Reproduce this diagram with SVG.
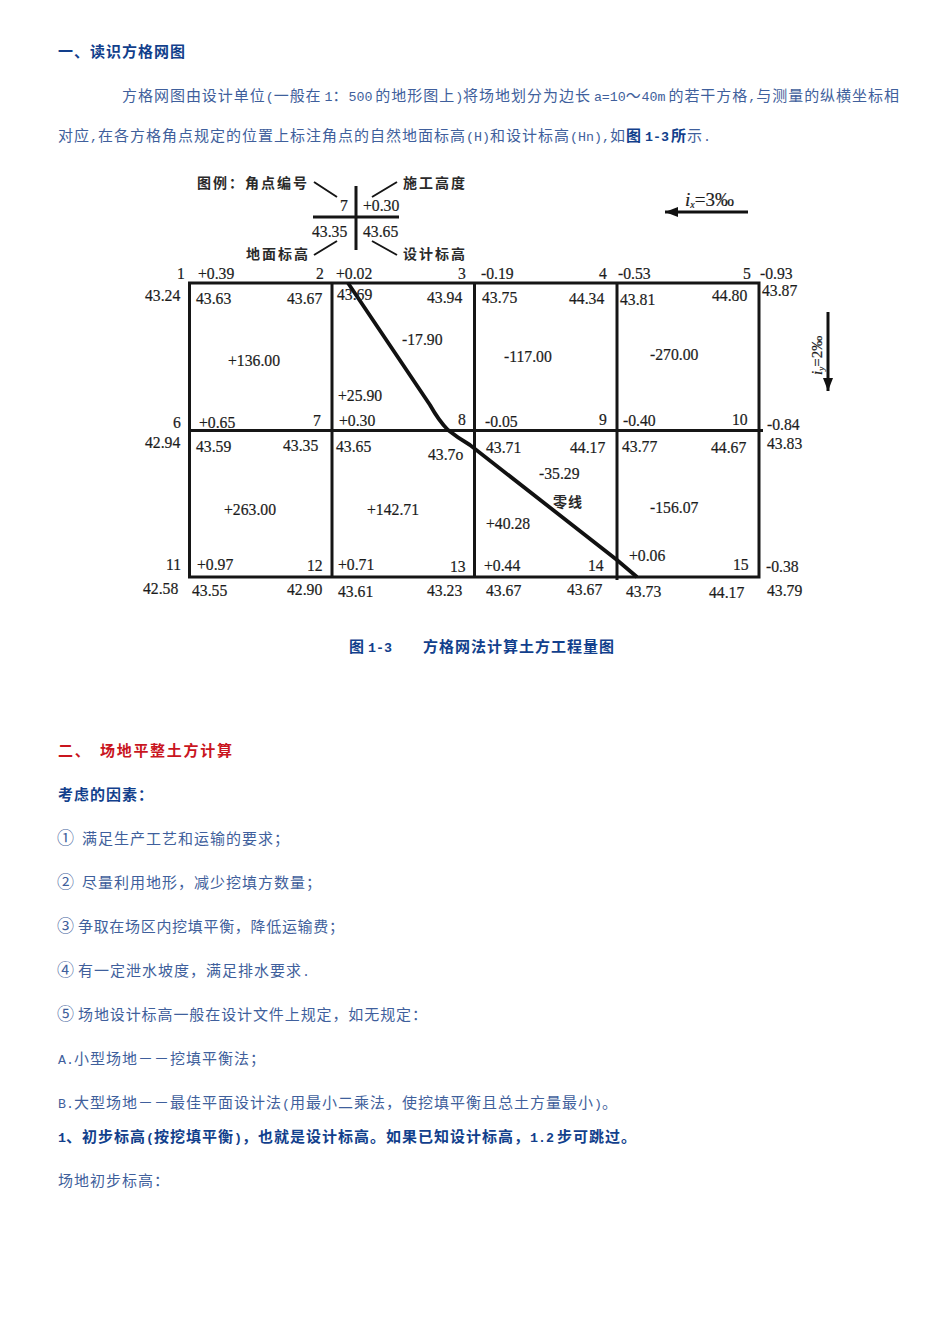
<svg xmlns="http://www.w3.org/2000/svg" width="950" height="1344" viewBox="0 0 950 1344">
<style>
.t{font-family:"Liberation Mono","Noto Sans CJK SC",sans-serif;font-size:15px;letter-spacing:1px;fill:#3f5f9c}
.b{font-weight:700;fill:#123f8c}
.r{font-weight:700;fill:#c9151e;letter-spacing:1.700px}
.l{font-size:13.300px;letter-spacing:0}
.o{font-family:"Noto Sans CJK SC",sans-serif;font-size:17px}
.n{font-family:"Liberation Serif","Noto Sans CJK SC",serif;font-size:15.700px;fill:#1c1c1c;stroke:#1c1c1c;stroke-width:.2}
.c{font-family:"Noto Sans CJK SC",sans-serif;font-size:14px;font-weight:700;letter-spacing:2px;fill:#2a2a2a}
.g{fill:none;stroke:#161616;stroke-width:3}
.z{fill:none;stroke:#111;stroke-width:3.800}
.h{fill:none;stroke:#161616;stroke-width:2}
.a{fill:none;stroke:#111;stroke-width:3;marker-end:url(#ah)}
</style>
<defs>
<marker id="ah" markerUnits="userSpaceOnUse" markerWidth="14" markerHeight="12" refX="13" refY="6" orient="auto"><path d="M0 1 L13 6 L0 11 Z" fill="#111"/></marker>
</defs>
<rect width="950" height="1344" fill="#fff"/>

<g id="text-top">
<text class="t b" x="58" y="57">一、读识方格网图</text>
<text class="t" x="122" y="101" textLength="778">方格网图由设计单位<tspan class="l">(</tspan>一般在<tspan class="l" dx="3">1</tspan>：<tspan class="l">500</tspan><tspan dx="3">的地形图上</tspan><tspan class="l">)</tspan>将场地划分为边长<tspan class="l" dx="3">a=10</tspan>～<tspan class="l">40m</tspan><tspan dx="3">的若干方格</tspan><tspan class="l">,</tspan>与测量的纵横坐标相</text>
<text class="t" x="58" y="141">对应<tspan class="l">,</tspan>在各方格角点规定的位置上标注角点的自然地面标高<tspan class="l">(H)</tspan>和设计标高<tspan class="l">(Hn),</tspan>如<tspan class="b">图<tspan class="l" dx="3">1-3</tspan><tspan dx="2">所</tspan></tspan>示<tspan class="l">.</tspan></text>
</g>

<g id="legend">
<path class="g" d="M356 186V250M313 217H399"/>
<path class="h" d="M314 182L337 197M372 197L397 182M314 255L337 241M372 241L397 255"/>
<text class="c" x="197" y="188">图例：角点编号</text>
<text class="c" x="403" y="188">施工高度</text>
<text class="c" x="246" y="259">地面标高</text>
<text class="c" x="403" y="259">设计标高</text>
<text class="n" x="340" y="211">7</text>
<text class="n" x="363" y="211">+0.30</text>
<text class="n" x="312" y="237">43.35</text>
<text class="n" x="363" y="237">43.65</text>
</g>

<g id="slope-arrows">
<path class="a" d="M748 212H665"/>
<path class="a" d="M828 312V391"/>
<text class="n" x="685" y="206" style="font-size:19px"><tspan font-style="italic">i</tspan><tspan font-size="10" dy="2" font-style="italic">x</tspan><tspan dy="-2">=3‰</tspan></text>
<text class="n" transform="translate(822 375) rotate(-90)" style="font-size:15px"><tspan font-style="italic">i</tspan><tspan font-size="9" dy="2" font-style="italic">y</tspan><tspan dy="-2">=2‰</tspan></text>
</g>

<g id="grid">
<path class="g" d="M189.500 283H759V577H189.500ZM332 283V577M474.500 283V577M617 283V580M189.500 430.500H763"/>
</g>
<g id="zero-line">
<path class="z" d="M348 283L430 405Q439 421 448 430Q458 438 470 445L617 560L637 577"/>
</g>

<g id="row-1-labels">
<text class="n" x="177" y="279">1</text><text class="n" x="198" y="279">+0.39</text>
<text class="n" x="316" y="279">2</text><text class="n" x="336" y="279">+0.02</text>
<text class="n" x="458" y="279">3</text><text class="n" x="481" y="279">-0.19</text>
<text class="n" x="599" y="279">4</text><text class="n" x="618" y="279">-0.53</text>
<text class="n" x="743" y="279">5</text><text class="n" x="760" y="279">-0.93</text>
<text class="n" x="145" y="301">43.24</text><text class="n" x="196" y="304">43.63</text>
<text class="n" x="287" y="304">43.67</text><text class="n" x="337" y="300">43.69</text>
<text class="n" x="427" y="303">43.94</text><text class="n" x="482" y="303">43.75</text>
<text class="n" x="569" y="304">44.34</text><text class="n" x="620" y="305">43.81</text>
<text class="n" x="712" y="301">44.80</text><text class="n" x="762" y="296">43.87</text>
</g>
<g id="cell-values-1">
<text class="n" x="228" y="366">+136.00</text>
<text class="n" x="402" y="345">-17.90</text>
<text class="n" x="338" y="401">+25.90</text>
<text class="n" x="504" y="362">-117.00</text>
<text class="n" x="650" y="360">-270.00</text>
</g>
<g id="row-2-labels">
<text class="n" x="173" y="428">6</text><text class="n" x="199" y="428">+0.65</text>
<text class="n" x="313" y="426">7</text><text class="n" x="339" y="426">+0.30</text>
<text class="n" x="458" y="425">8</text><text class="n" x="485" y="427">-0.05</text>
<text class="n" x="599" y="425">9</text><text class="n" x="623" y="426">-0.40</text>
<text class="n" x="732" y="425">10</text><text class="n" x="767" y="430">-0.84</text>
<text class="n" x="145" y="448">42.94</text><text class="n" x="196" y="452">43.59</text>
<text class="n" x="283" y="451">43.35</text><text class="n" x="336" y="452">43.65</text>
<text class="n" x="428" y="460">43.7o</text><text class="n" x="486" y="453">43.71</text>
<text class="n" x="570" y="453">44.17</text><text class="n" x="622" y="452">43.77</text>
<text class="n" x="711" y="453">44.67</text><text class="n" x="767" y="449">43.83</text>
</g>
<g id="cell-values-2">
<text class="n" x="224" y="515">+263.00</text>
<text class="n" x="367" y="515">+142.71</text>
<text class="n" x="539" y="479">-35.29</text>
<text class="c" x="553" y="507" style="letter-spacing:1px">零线</text>
<text class="n" x="486" y="529">+40.28</text>
<text class="n" x="650" y="513">-156.07</text>
<text class="n" x="629" y="561">+0.06</text>
</g>
<g id="row-3-labels">
<text class="n" x="166" y="570">11</text><text class="n" x="197" y="570">+0.97</text>
<text class="n" x="307" y="571">12</text><text class="n" x="338" y="570">+0.71</text>
<text class="n" x="450" y="572">13</text><text class="n" x="484" y="571">+0.44</text>
<text class="n" x="588" y="571">14</text><text class="n" x="733" y="570">15</text>
<text class="n" x="766" y="572">-0.38</text>
<text class="n" x="143" y="594">42.58</text><text class="n" x="192" y="596">43.55</text>
<text class="n" x="287" y="595">42.90</text><text class="n" x="338" y="597">43.61</text>
<text class="n" x="427" y="596">43.23</text><text class="n" x="486" y="596">43.67</text>
<text class="n" x="567" y="595">43.67</text><text class="n" x="626" y="597">43.73</text>
<text class="n" x="709" y="598">44.17</text><text class="n" x="767" y="596">43.79</text>
</g>

<g id="caption">
<text class="t b" x="349" y="652">图<tspan class="l" dx="3">1-3</tspan></text>
<text class="t b" x="423" y="652">方格网法计算土方工程量图</text>
</g>

<g id="text-bottom">
<text class="t r" x="58" y="756">二、</text>
<text class="t r" x="100" y="756">场地平整土方计算</text>
<text class="t b" x="58" y="800">考虑的因素：</text>
<text class="t o" x="57" y="844">①</text><text class="t" x="82" y="844">满足生产工艺和运输的要求；</text>
<text class="t o" x="57" y="888">②</text><text class="t" x="82" y="888">尽量利用地形，减少挖填方数量；</text>
<text class="t o" x="57" y="932">③</text><text class="t" x="78" y="932" textLength="267">争取在场区内挖填平衡，降低运输费；</text>
<text class="t o" x="57" y="976">④</text><text class="t" x="78" y="976">有一定泄水坡度，满足排水要求<tspan class="l">.</tspan></text>
<text class="t o" x="57" y="1020">⑤</text><text class="t" x="78" y="1020" textLength="350">场地设计标高一般在设计文件上规定，如无规定：</text>
<text class="t" x="58" y="1064"><tspan class="l">A.</tspan>小型场地－－挖填平衡法；</text>
<text class="t" x="58" y="1108"><tspan class="l">B.</tspan>大型场地－－最佳平面设计法<tspan class="l">(</tspan>用最小二乘法，使挖填平衡且总土方量最小<tspan class="l">)</tspan>。</text>
<text class="t b" x="58" y="1142"><tspan class="l">1</tspan>、初步标高<tspan class="l">(</tspan>按挖填平衡<tspan class="l">)</tspan>，也就是设计标高。如果已知设计标高，<tspan class="l">1.2</tspan><tspan dx="3">步可跳过。</tspan></text>
<text class="t" x="58" y="1186">场地初步标高：</text>
</g>
</svg>
